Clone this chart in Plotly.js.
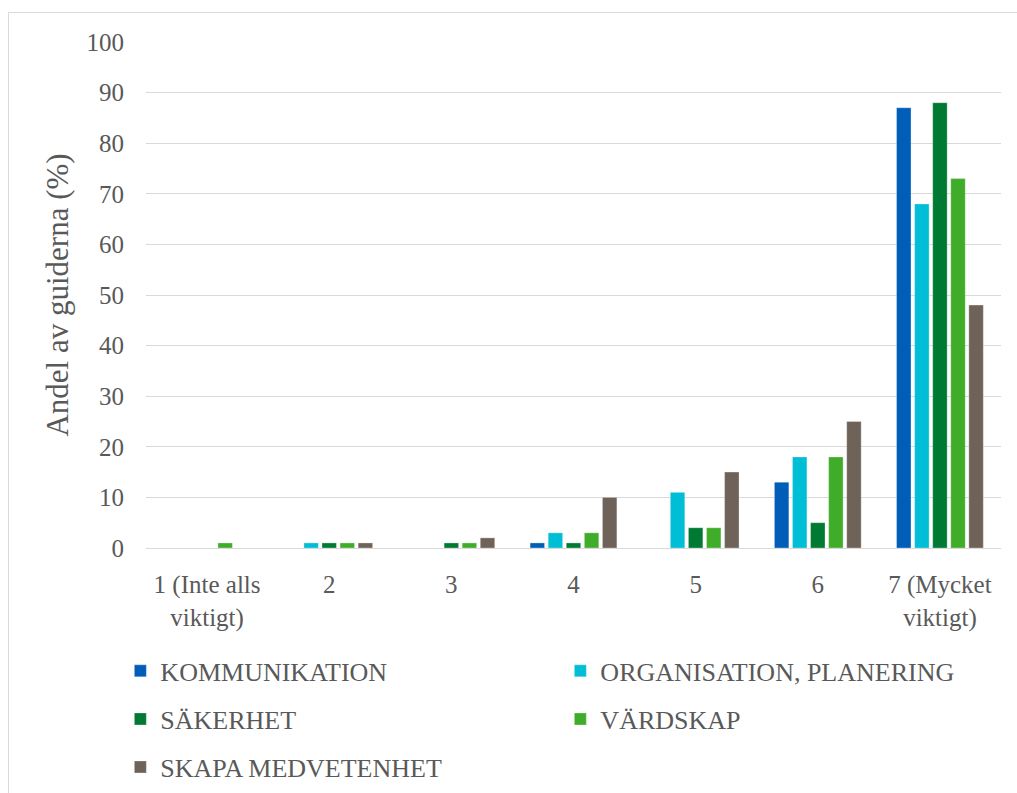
<!DOCTYPE html>
<html>
<head>
<meta charset="utf-8">
<script src="https://cdn.plot.ly/plotly-3.0.1.min.js"></script>
<style>
  html, body { margin: 0; padding: 0; background: #fff; width: 1017px; height: 793px; overflow: hidden; }
  #frame { position: absolute; left: 8px; top: 12px; width: 1012px; height: 785px; border: 1px solid #d9d9d9; box-sizing: border-box; }
  #chart { position: absolute; left: 0; top: 0; width: 1010px; height: 783px; }
</style>
</head>
<body>
<div id="frame"><div id="chart"></div></div>
<script>
const categories = ["1 (Inte alls<br>viktigt)", "2", "3", "4", "5", "6", "7 (Mycket<br>viktigt)"];
const seriesNames = ["KOMMUNIKATION", "ORGANISATION, PLANERING", "SÄKERHET", "VÄRDSKAP", "SKAPA MEDVETENHET"];
const kommunikation = [0, 0, 0, 1, 0, 13, 87];
const organisation  = [0, 1, 0, 3, 11, 18, 68];
const sakerhet      = [0, 1, 1, 1, 4, 5, 88];
const vardskap      = [1, 1, 1, 3, 4, 18, 73];
const skapa         = [0, 1, 2, 10, 15, 25, 48];
const yTicks = [0, 10, 20, 30, 40, 50, 60, 70, 80, 90, 100];

const values = [kommunikation, organisation, sakerhet, vardskap, skapa];
const colors = ["#005EB8", "#00BED6", "#007A33", "#40AD2A", "#6F6259"];
const legendIds = ["legend", "legend", "legend2", "legend2", "legend3"];

const FONT = "'Liberation Serif', 'Times New Roman', serif";
const TXT = "#595959";

const traces = values.map((v, i) => ({
  type: "bar",
  name: seriesNames[i],
  x: categories,
  y: v,
  marker: { color: colors[i], line: { color: "rgba(255,255,255,0.6)", width: 0.5 } },
  legend: legendIds[i],
  hoverinfo: "x+y+name"
}));

function legendAt(y) {
  return {
    orientation: "h",
    x: -0.03, xanchor: "left",
    y: y, yanchor: "middle",
    entrywidth: 395, entrywidthmode: "pixels",
    font: { family: FONT, size: 26, color: TXT },
    bgcolor: "rgba(0,0,0,0)",
    itemclick: false, itemdoubleclick: false,
    traceorder: "normal"
  };
}

const layout = {
  width: 1010, height: 783,
  margin: { l: 137, r: 18, t: 29, b: 248, autoexpand: false },
  paper_bgcolor: "rgba(0,0,0,0)",
  plot_bgcolor: "#fff",
  font: { family: FONT, color: TXT, size: 24 },
  barmode: "group",
  bargap: 0.26,
  bargroupgap: 0.2,
  showlegend: true,
  xaxis: {
    type: "category",
    tickfont: { family: FONT, size: 25, color: TXT },
    showline: true, linecolor: "#d9d9d9", linewidth: 1,
    ticks: "", showgrid: false,
    automargin: false,
    ticklabelstandoff: 14
  },
  yaxis: {
    range: [0, 100],
    tickvals: yTicks,
    ticktext: yTicks.map(String),
    tickfont: { family: FONT, size: 25, color: TXT },
    showgrid: true, gridcolor: "#d9d9d9", gridwidth: 1,
    zeroline: false, showline: false, ticks: "",
    ticklabelstandoff: 21,
    automargin: false,
    title: { text: "Andel av guiderna (%)", font: { family: FONT, size: 31, color: TXT }, standoff: 8 }
  },
  legend: legendAt(-0.243),
  legend2: legendAt(-0.338),
  legend3: legendAt(-0.433)
};

Plotly.newPlot("chart", traces, layout, { displayModeBar: false, staticPlot: true });
</script>
</body>
</html>
